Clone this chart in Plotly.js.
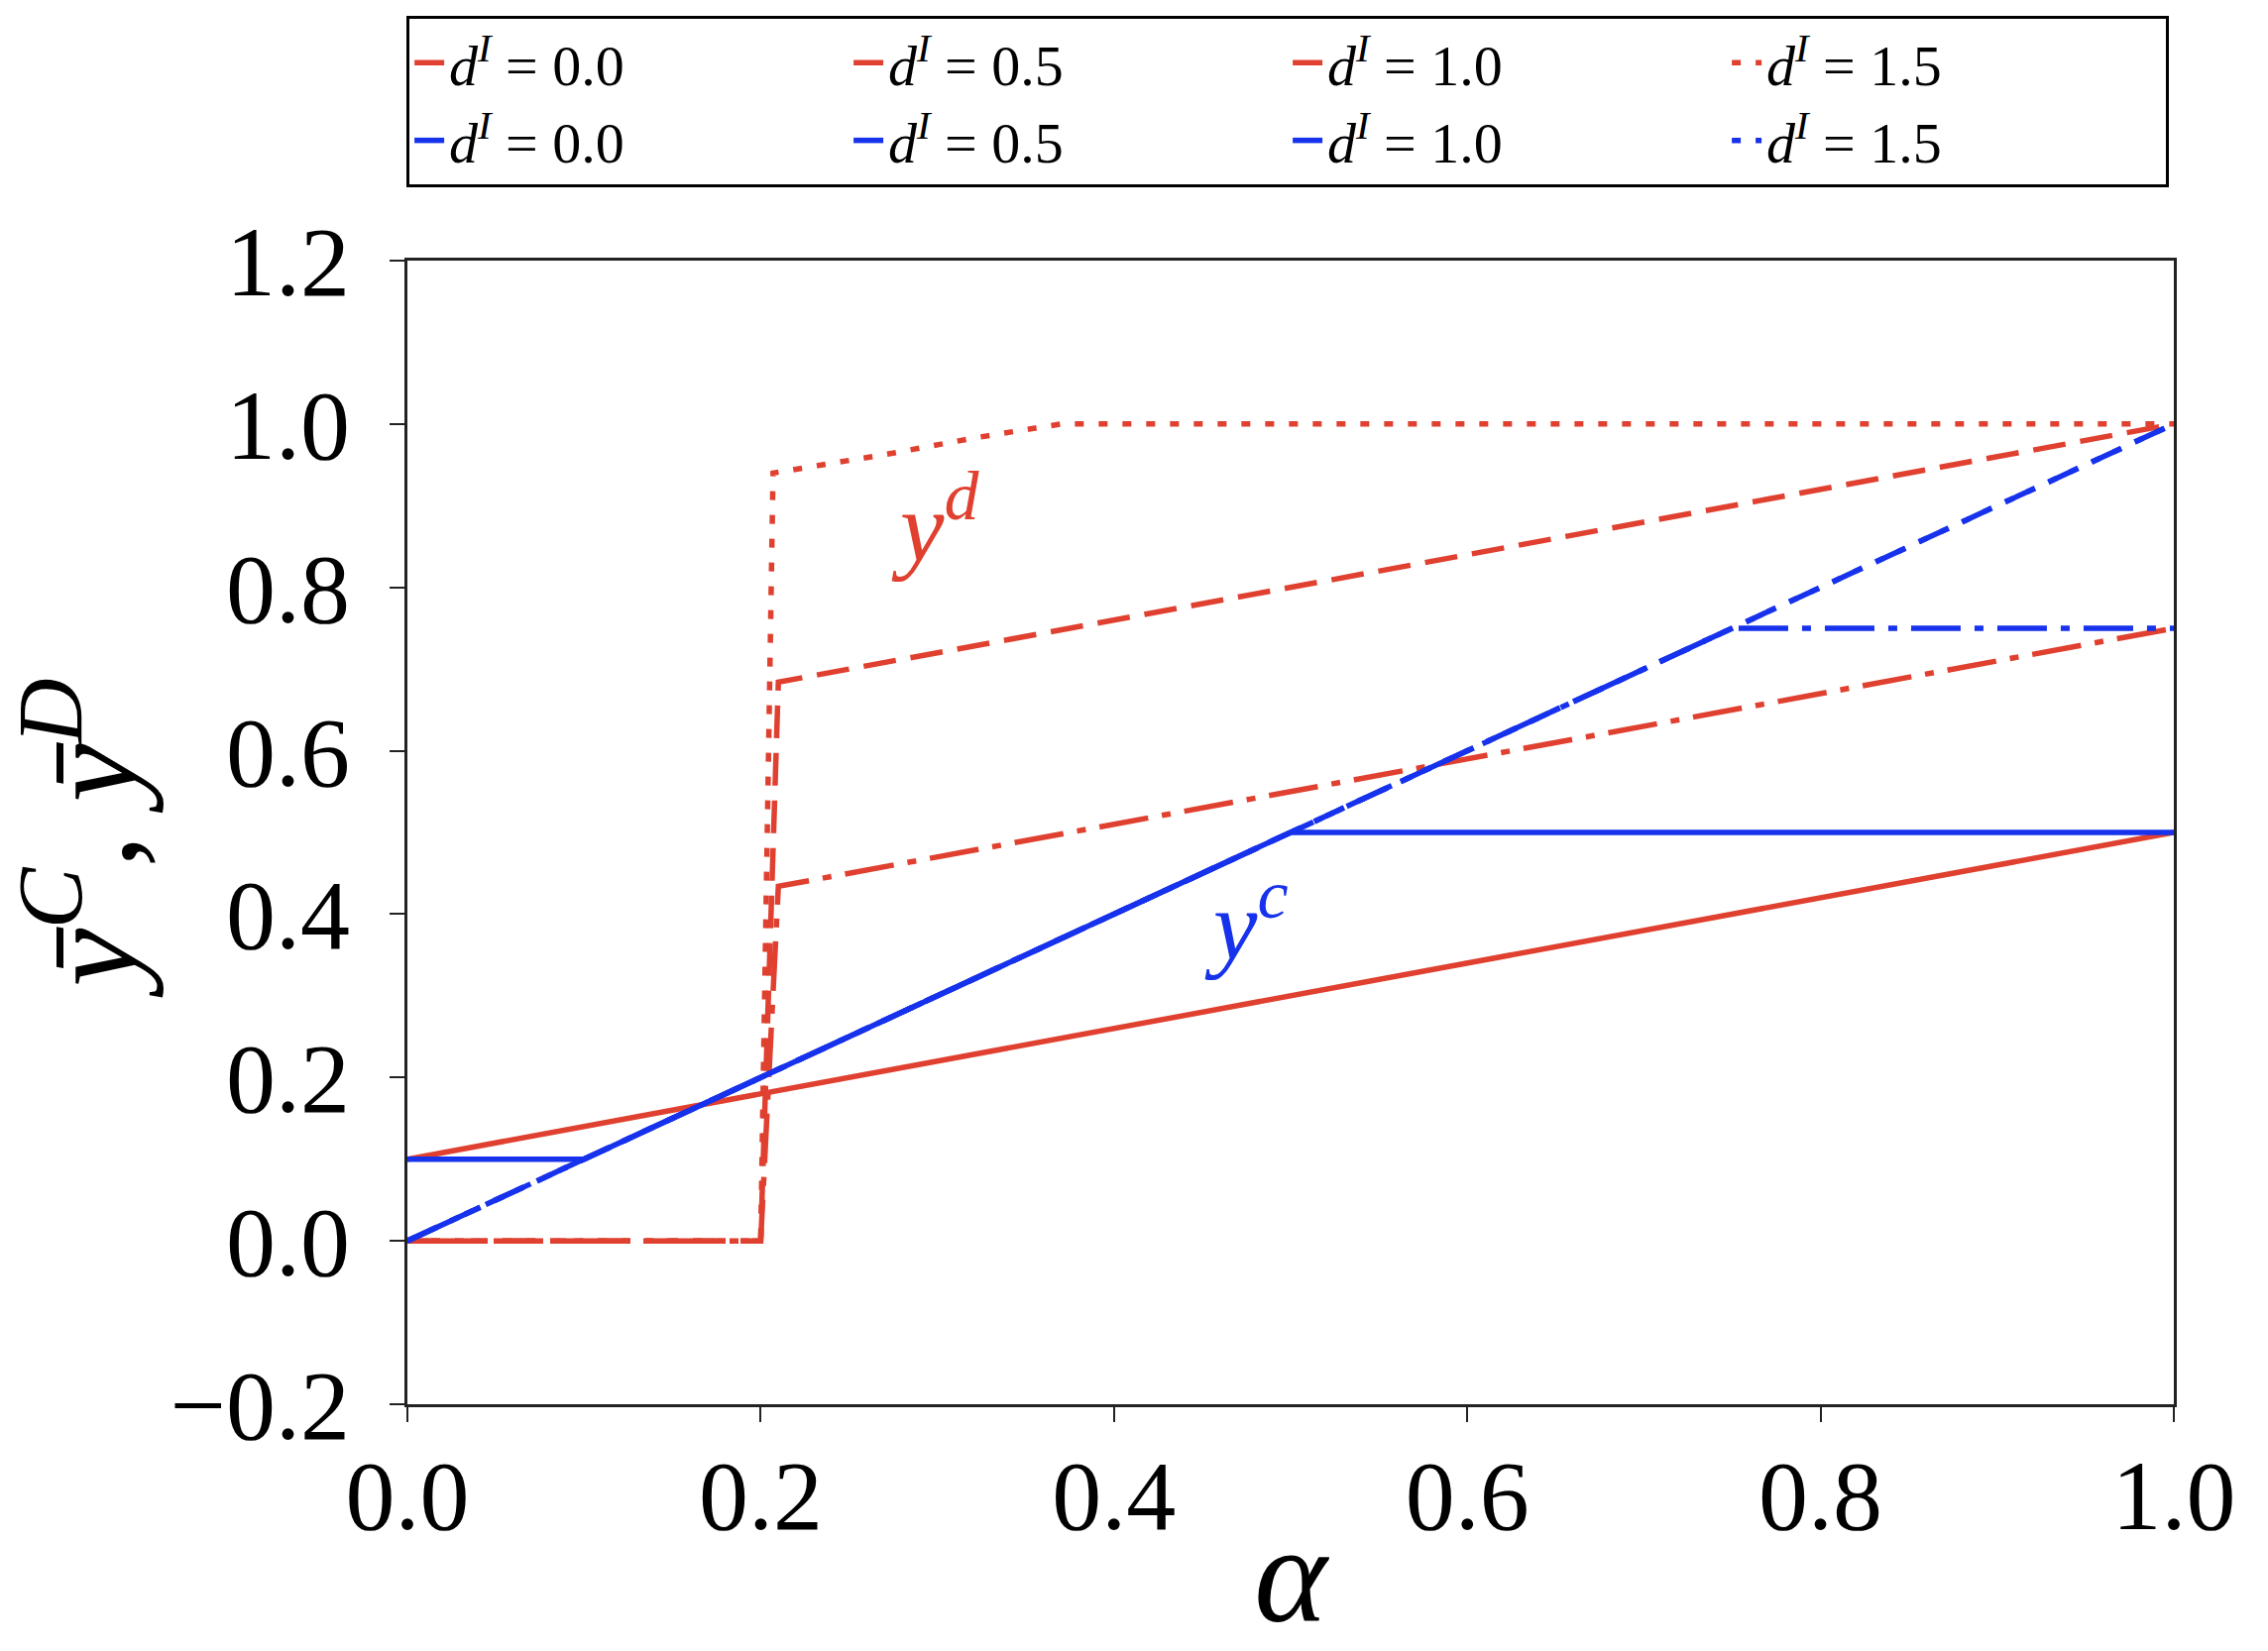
<!DOCTYPE html>
<html>
<head>
<meta charset="utf-8">
<script src="https://cdn.plot.ly/plotly-3.0.1.min.js"></script>
<style>
  html, body { margin: 0; padding: 0; background: #fff; }
  #myDiv { width: 2288px; height: 1666px; }
</style>
</head>
<body>
<div id="myDiv"></div>
<script>
// values (alpha on x, mean y on the y axis)
var redX00 = [0, 1];
var redY00 = [0.1, 0.5];
var redX05 = [0, 0.2, 0.21, 1];
var redY05 = [0, 0, 0.434, 0.75];
var redX10 = [0, 0.2, 0.21, 1];
var redY10 = [0, 0, 0.684, 1.0];
var redX15 = [0, 0.2, 0.207, 0.274, 0.321, 0.37, 1];
var redY15 = [0, 0, 0.94, 0.964, 0.983, 1.0, 1.0];

var blueX00 = [0, 0.1, 0.5, 1];
var blueY00 = [0.1, 0.1, 0.5, 0.5];
var blueX05 = [0, 0.75, 1];
var blueY05 = [0, 0.75, 0.75];
var blueX10 = [0, 1];
var blueY10 = [0, 1];
var blueX15 = [0, 1];
var blueY15 = [0, 1];

var dLabels = ['0.0', '0.5', '1.0', '1.5'];
var tickVals = [0, 0.2, 0.4, 0.6, 0.8, 1.0];
var yTickVals = [-0.2, 0, 0.2, 0.4, 0.6, 0.8, 1.0, 1.2];

var red = '#e0402f';
var blue = '#1632ec';
var serif = 'Liberation Serif, Times New Roman, serif';

// matplotlib-like patterns: dotted period is half the dashed one,
// so a dotted line lying on a dashed one hides inside its dashes
var dashes = ['solid', '50px,14px,9px,14px', '33px,15px', '9px,15px'];

function legendName(d) {
	return '<i>d</i><sup><i>I</i></sup> = ' + d;
}

function makeTrace(x, y, color, i) {
	return {
		x: x,
		y: y,
		type: 'scatter',
		mode: 'lines',
		name: legendName(dLabels[i]),
		line: { color: color, width: 5.5, dash: dashes[i] }
	};
}

var data = [
	makeTrace(redX00, redY00, red, 0),
	makeTrace(redX05, redY05, red, 1),
	makeTrace(redX10, redY10, red, 2),
	makeTrace(redX15, redY15, red, 3),
	makeTrace(blueX00, blueY00, blue, 0),
	makeTrace(blueX05, blueY05, blue, 1),
	makeTrace(blueX10, blueY10, blue, 2),
	makeTrace(blueX15, blueY15, blue, 3)
];

var layout = {
	width: 2288,
	height: 1666,
	paper_bgcolor: '#fff',
	plot_bgcolor: '#fff',
	margin: { l: 411, r: 95, t: 263, b: 249 },
	font: { family: serif, color: '#000' },
	showlegend: true,
	legend: {
		orientation: 'h',
		x: -0.0005,
		xanchor: 'left',
		y: 1.214,
		yanchor: 'top',
		entrywidth: 398,
		entrywidthmode: 'pixels',
		bgcolor: '#fff',
		bordercolor: '#000',
		borderwidth: 3,
		font: { family: serif, size: 58, color: '#000' }
	},
	xaxis: {
		range: [0, 1],
		tickvals: tickVals,
		tickformat: '.1f',
		ticks: 'outside',
		ticklen: 15,
		tickwidth: 2,
		tickcolor: '#222',
		ticklabelstandoff: -12,
		showline: true,
		linecolor: '#222',
		linewidth: 3,
		mirror: true,
		showgrid: false,
		zeroline: false,
		tickfont: { family: serif, size: 100, color: '#000' },
		title: { text: '<i>α</i>', font: { family: serif, size: 140, color: '#000' }, standoff: 0 }
	},
	yaxis: {
		range: [-0.2, 1.2],
		tickvals: yTickVals,
		tickformat: '.1f',
		ticks: 'outside',
		ticklen: 15,
		tickwidth: 2,
		tickcolor: '#222',
		ticklabelstandoff: 20,
		showline: true,
		linecolor: '#222',
		linewidth: 3,
		mirror: true,
		showgrid: false,
		zeroline: false,
		tickfont: { family: serif, size: 100, color: '#000' },
		title: {
			text: '\u00a0\u00a0\u00a0<i>ȳ</i><sup><i>C</i></sup>, <i>ȳ</i><sup><i>D</i></sup>',
			font: { family: serif, size: 132, color: '#000' },
			standoff: 0
		}
	},
	annotations: [
		{ x: 0.299, y: 0.882, xref: 'x', yref: 'y', showarrow: false,
			text: '<i>y</i><sup><i>d</i></sup>', font: { family: serif, size: 100, color: red } },
		{ x: 0.475, y: 0.395, xref: 'x', yref: 'y', showarrow: false,
			text: '<i>y</i><sup><i>c</i></sup>', font: { family: serif, size: 100, color: blue } }
	]
};

Plotly.newPlot(document.getElementById('myDiv'), data, layout, { staticPlot: true });
</script>
</body>
</html>
